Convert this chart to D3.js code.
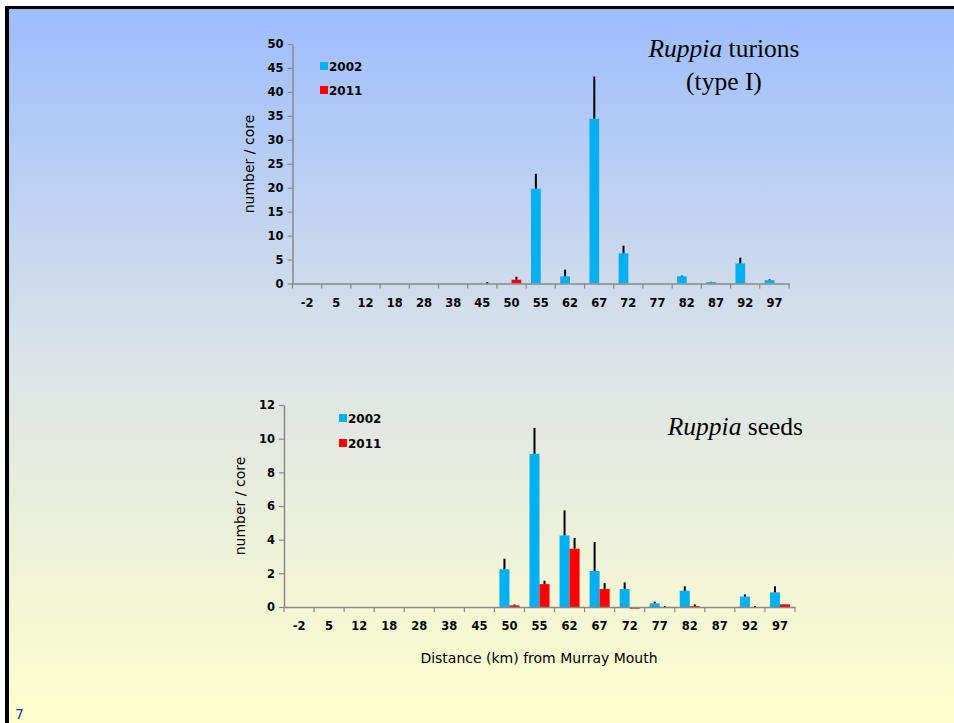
<!DOCTYPE html>
<html><head><meta charset="utf-8">
<script src="https://cdn.jsdelivr.net/npm/d3@7"></script>
<style>
html,body{margin:0;padding:0;background:#fff;}
svg{display:block;}
</style></head>
<body>
<svg id="c" width="954" height="723"></svg>
<script>
const categories = ["-2","5","12","18","28","38","45","50","55","62","67","72","77","82","87","92","97"];
const seriesNames = ["2002","2011"];

const turions2002    = [0,0,0,0,0,0,0,0,19.8,1.5,34.4,6.3,0,1.5,0.3,4.2,0.7];
const turions2002Err = [0,0,0,0,0,0,0,0,3.1,1.4,8.8,1.6,0,0.15,0.05,1.2,0.15];
const turions2011    = [0,0,0,0,0,0,0,0.8,0,0,0,0,0,0,0,0,0];
const turions2011Err = [0,0,0,0,0,0,0.3,0.6,0,0,0,0,0,0,0,0,0];
const turionsTicks = [0,5,10,15,20,25,30,35,40,45,50];

const seeds2002    = [0,0,0,0,0,0,0,2.24,9.1,4.25,2.14,1.07,0.22,0.97,0,0.62,0.87];
const seeds2002Err = [0,0,0,0,0,0,0,0.63,1.54,1.49,1.72,0.39,0.1,0.26,0,0.13,0.36];
const seeds2011    = [0,0,0,0,0,0,0,0.1,1.36,3.46,1.07,-0.1,0,0.05,0,0,0.16];
const seeds2011Err = [0,0,0,0,0,0,0,0.05,0.2,0.64,0.35,0,0.06,0.1,0,0.06,0];
const seedsTicks = [0,2,4,6,8,10,12];

const colors = ["#00B0F0","#FF0000"];
const svg = d3.select("#c");

const defs = svg.append("defs");
const grad = defs.append("linearGradient").attr("id","bg").attr("x1",0).attr("y1",0).attr("x2",0).attr("y2",1);
grad.append("stop").attr("offset","0%").attr("stop-color","#9DBDFE");
grad.append("stop").attr("offset","50%").attr("stop-color","#DCE4E6");
grad.append("stop").attr("offset","100%").attr("stop-color","#FFFFCC");
svg.append("rect").attr("x",5).attr("y",6).attr("width",949).attr("height",717).attr("fill","#000");
svg.append("rect").attr("x",9).attr("y",9).attr("width",945).attr("height",714).attr("fill","url(#bg)");

const tickFont = "'DejaVu Sans', Verdana, sans-serif";

function chart(opt){
  const {x0,x1,y0,y1,ymax,ticks,s1,e1,s2,e2} = opt;
  const x = d3.scaleBand().domain(categories).range([x0,x1]).padding(0);
  const y = d3.scaleLinear().domain([0,ymax]).range([y0,y1]);
  const inner = d3.scaleBand().domain(seriesNames).range([0,x.bandwidth()]).paddingInner(0).paddingOuter(0.5);
  const root = svg.append("g");
  const data = [s1,s2], errs=[e1,e2];
  seriesNames.forEach((s,si)=>{
    root.append("g").selectAll("rect").data(categories).join("rect")
      .attr("x",c=>x(c)+inner(s))
      .attr("width",inner.bandwidth())
      .attr("y",(c,i)=>Math.min(y(data[si][i]),y(0)))
      .attr("height",(c,i)=>Math.abs(y(data[si][i])-y(0)))
      .attr("fill",colors[si]);
  });
  seriesNames.forEach((s,si)=>{
    root.append("g").selectAll("line").data(categories.map((c,i)=>({c,i})).filter(d=>errs[si][d.i]>0)).join("line")
      .attr("x1",d=>x(d.c)+inner(s)+inner.bandwidth()/2)
      .attr("x2",d=>x(d.c)+inner(s)+inner.bandwidth()/2)
      .attr("y1",d=>y(Math.max(data[si][d.i],0)))
      .attr("y2",d=>y(Math.max(data[si][d.i],0)+errs[si][d.i]))
      .attr("stroke","#000").attr("stroke-width",2);
  });
  const ya = root.append("g").attr("transform",`translate(${x0},0)`)
    .call(d3.axisLeft(y).tickValues(ticks).tickSize(5).tickPadding(4).tickSizeOuter(0));
  ya.select(".domain").attr("stroke","#888").attr("stroke-width",1.5);
  ya.selectAll(".tick line").attr("stroke","#888").attr("stroke-width",1.2);
  ya.selectAll("text").attr("font-family",tickFont).attr("font-weight","bold").attr("font-size",11.5).attr("fill","#000");
  const xa = root.append("g").attr("transform",`translate(0,${y0})`)
    .call(d3.axisBottom(x).tickSize(0).tickPadding(15));
  xa.select(".domain").attr("stroke","#888").attr("stroke-width",1.5);
  xa.selectAll("text").attr("font-family",tickFont).attr("font-weight","bold").attr("font-size",11.5).attr("fill","#000");
  const bounds = categories.map(c=>x(c)).concat([x1]);
  root.append("g").selectAll("line").data(bounds).join("line")
    .attr("x1",d=>d).attr("x2",d=>d).attr("y1",y0).attr("y2",y0+5)
    .attr("stroke","#888").attr("stroke-width",1.2);
  return {x,y,root};
}

const chartTop = chart({x0:292.5,x1:789,y0:283.5,y1:44,ymax:50,ticks:turionsTicks,
  s1:turions2002,e1:turions2002Err,s2:turions2011,e2:turions2011Err});
const chartBot = chart({x0:284,x1:795,y0:607,y1:405,ymax:12,ticks:seedsTicks,
  s1:seeds2002,e1:seeds2002Err,s2:seeds2011,e2:seeds2011Err});

svg.append("text").attr("transform","translate(254,164) rotate(-90)")
  .attr("text-anchor","middle").attr("font-family",tickFont).attr("font-size",14).text("number / core");
svg.append("text").attr("transform","translate(245,506) rotate(-90)")
  .attr("text-anchor","middle").attr("font-family",tickFont).attr("font-size",14).text("number / core");

svg.append("text").attr("x",539).attr("y",663).attr("text-anchor","middle")
  .attr("font-family",tickFont).attr("font-size",14).text("Distance (km) from Murray Mouth");

function legend(x, y, dy){
  seriesNames.forEach((s,i)=>{
    svg.append("rect").attr("x",x).attr("y",y+i*dy-4).attr("width",8).attr("height",8).attr("fill",colors[i]);
    svg.append("text").attr("x",x+9).attr("y",y+i*dy+5).attr("font-family",tickFont)
      .attr("font-weight","bold").attr("font-size",12).text(s);
  });
}
legend(320,66,24);
legend(339,418,25);

const serif = "'Liberation Serif','Times New Roman',serif";
const t1 = svg.append("text").attr("x",724).attr("y",57).attr("text-anchor","middle")
  .attr("font-family",serif).attr("font-size",25.5);
t1.append("tspan").attr("font-style","italic").text("Ruppia");
t1.append("tspan").text(" turions");
svg.append("text").attr("x",724).attr("y",90).attr("text-anchor","middle")
  .attr("font-family",serif).attr("font-size",25.5).text("(type I)");
const t2 = svg.append("text").attr("x",803).attr("y",435).attr("text-anchor","end")
  .attr("font-family",serif).attr("font-size",25.5);
t2.append("tspan").attr("font-style","italic").text("Ruppia");
t2.append("tspan").text(" seeds");

svg.append("text").attr("x",15).attr("y",719).attr("font-family",tickFont)
  .attr("font-size",14).attr("fill","#1F3A9F").text("7");
</script>
</body></html>
